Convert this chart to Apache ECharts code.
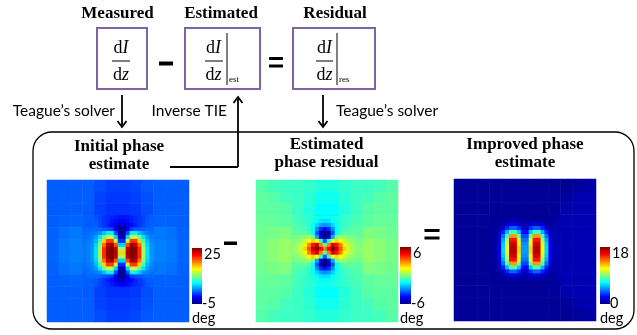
<!DOCTYPE html>
<html>
<head>
<meta charset="utf-8">
<script src="https://cdn.jsdelivr.net/npm/echarts@6/dist/echarts.min.js"></script>
<style>
  html, body { margin: 0; padding: 0; background: #fff; }
  #chart { width: 637px; height: 335px; }
</style>
</head>
<body>
<div id="chart"></div>
<script>
// phase maps (deg): a coarse 12x12 grid over the whole frame,
// plus a fine 18x18 grid over the central 6x6 coarse cells
const initialCoarse = [
  [1.5, 1.5, 1.5, 1.5, 1.0, 0.6, 0.6, 0.8, 1.3, 1.5, 1.5, 1.5],
  [1.5, 1.5, 1.5, 1.5, 0.7, 0.4, 0.4, 0.6, 1.1, 1.5, 1.5, 1.5],
  [1.5, 1.5, 1.5, 1.4, 0.6, 0.2, 0.2, 0.4, 1.0, 1.5, 1.5, 1.5],
  [1.5, 1.6, 1.7, 1.5, 0.8, -0.5, -0.8, 0.2, 1.2, 1.6, 1.6, 1.5],
  [1.6, 2.1, 2.3, 2.3, 2.0, 0, -1, 1.5, 2.3, 2.3, 2.1, 1.6],
  [1.7, 2.3, 2.5, 2.8, 8, 15, 15, 8, 2.8, 2.5, 2.3, 1.7],
  [1.7, 2.3, 2.5, 2.8, 8, 15, 15, 8, 2.8, 2.5, 2.3, 1.7],
  [1.6, 2.1, 2.3, 2.3, 2.0, 0, -1, 1.5, 2.3, 2.3, 2.1, 1.6],
  [1.5, 1.6, 1.7, 1.5, 0.8, -0.5, -0.8, 0.2, 1.2, 1.6, 1.6, 1.5],
  [1.5, 1.5, 1.5, 1.4, 0.6, 0.2, 0.2, 0.4, 1.0, 1.5, 1.5, 1.5],
  [1.5, 1.5, 1.5, 1.5, 0.7, 0.4, 0.4, 0.6, 1.1, 1.5, 1.5, 1.5],
  [1.5, 1.5, 1.5, 1.5, 1.0, 0.6, 0.6, 0.8, 1.3, 1.5, 1.5, 1.5]
];
const initialFine = [
  [1.5, 1.5, 1.5, 1.2, 0.7, 0.3, 0.1, -0.3, -0.6, -0.8, -0.8, -0.6, -0.3, 0.1, 0.3, 0.7, 1.2, 1.5],
  [1.5, 1.5, 1.5, 1.3, 0.7, 0.3, 0, -0.5, -1, -1.5, -1.5, -1, -0.5, 0, 0.3, 0.7, 1.3, 1.5],
  [1.5, 1.5, 1.5, 1.4, 0.8, 0.3, -0.3, -1, -2, -3, -3, -2, -1, -0.3, 0.3, 0.8, 1.4, 1.5],
  [1.6, 1.7, 1.8, 1.8, 1.6, 1.2, 1, 0.5, -2, -4, -4, -2, 0.5, 1, 1.2, 1.6, 1.8, 1.8],
  [1.8, 2, 2.1, 2.4, 3, 4.5, 6, 6, 1, -4.5, -4.5, 1, 6, 6, 4.5, 3, 2.4, 2.1],
  [2, 2.2, 2.5, 3.4, 5.5, 9, 12, 12, 5, -3, -3, 5, 12, 12, 9, 5.5, 3.4, 2.5],
  [2.1, 2.3, 2.8, 4.2, 8, 15, 19.5, 19.5, 12, 0, 0, 12, 19.5, 19.5, 15, 8, 4.2, 2.8],
  [2.2, 2.4, 3, 5, 10, 18, 23, 24, 19, 5, 5, 19, 24, 23, 18, 10, 5, 3],
  [2.3, 2.5, 3.2, 5.5, 11, 20, 24.5, 25, 23, 11, 11, 23, 25, 24.5, 20, 11, 5.5, 3.2],
  [2.3, 2.5, 3.2, 5.5, 11, 20, 24.5, 25, 23.5, 15, 15, 23.5, 25, 24.5, 20, 11, 5.5, 3.2],
  [2.3, 2.5, 3.2, 5.5, 11, 20, 24.5, 25, 23, 11, 11, 23, 25, 24.5, 20, 11, 5.5, 3.2],
  [2.2, 2.4, 3, 5, 10, 18, 23, 24, 19, 5, 5, 19, 24, 23, 18, 10, 5, 3],
  [2.1, 2.3, 2.8, 4.2, 8, 15, 19.5, 19.5, 12, 0, 0, 12, 19.5, 19.5, 15, 8, 4.2, 2.8],
  [2, 2.2, 2.5, 3.4, 5.5, 9, 12, 12, 5, -3, -3, 5, 12, 12, 9, 5.5, 3.4, 2.5],
  [1.8, 2, 2.1, 2.4, 3, 4.5, 6, 6, 1, -4.5, -4.5, 1, 6, 6, 4.5, 3, 2.4, 2.1],
  [1.6, 1.7, 1.8, 1.8, 1.6, 1.2, 1, 0.5, -2, -4, -4, -2, 0.5, 1, 1.2, 1.6, 1.8, 1.8],
  [1.5, 1.5, 1.5, 1.4, 0.8, 0.3, -0.3, -1, -2, -3, -3, -2, -1, -0.3, 0.3, 0.8, 1.4, 1.5],
  [1.5, 1.5, 1.5, 1.3, 0.7, 0.3, 0, -0.5, -1, -1.5, -1.5, -1, -0.5, 0, 0.3, 0.7, 1.3, 1.5]
];

const residualCoarse = [
  [-0.5, -0.7, -0.8, -0.8, -0.9, -1.1, -1.1, -0.9, -0.8, -0.8, -0.7, -0.5],
  [-0.4, -0.5, -0.7, -0.8, -1.0, -1.3, -1.3, -1.0, -0.8, -0.7, -0.5, -0.4],
  [-0.4, -0.4, -0.5, -0.8, -1.1, -1.5, -1.5, -1.1, -0.8, -0.5, -0.4, -0.4],
  [-0.3, -0.3, -0.4, -0.6, -1.2, -2.5, -2.5, -1.2, -0.6, -0.4, -0.3, -0.3],
  [-0.2, -0.1, 0, 0.1, -0.5, -4, -4, -0.5, 0.1, 0, -0.1, -0.2],
  [-0.1, 0.1, 0.3, 0.6, 2.5, 3, 3, 2.5, 0.6, 0.3, 0.1, -0.1],
  [-0.1, 0.1, 0.3, 0.6, 2.5, 3, 3, 2.5, 0.6, 0.3, 0.1, -0.1],
  [-0.2, -0.1, 0, 0.1, -0.5, -4, -4, -0.5, 0.1, 0, -0.1, -0.2],
  [-0.3, -0.3, -0.4, -0.6, -1.2, -2.5, -2.5, -1.2, -0.6, -0.4, -0.3, -0.3],
  [-0.4, -0.4, -0.5, -0.8, -1.1, -1.5, -1.5, -1.1, -0.8, -0.5, -0.4, -0.4],
  [-0.4, -0.5, -0.7, -0.8, -1.0, -1.3, -1.3, -1.0, -0.8, -0.7, -0.5, -0.4],
  [-0.5, -0.7, -0.8, -0.8, -0.9, -1.1, -1.1, -0.9, -0.8, -0.8, -0.7, -0.5]
];
const residualFine = [
  [-0.6, -0.7, -0.8, -0.9, -1, -1.1, -1.3, -1.4, -1.5, -1.4, -1.3, -1.1, -1, -0.9, -0.8, -0.7, -0.6, -0.6],
  [-0.6, -0.7, -0.8, -0.9, -1, -1.2, -1.5, -1.8, -1.9, -1.8, -1.5, -1.2, -1, -0.9, -0.8, -0.7, -0.6, -0.6],
  [-0.5, -0.6, -0.7, -0.8, -1, -1.4, -2, -2.6, -2.8, -2.6, -2, -1.4, -1, -0.8, -0.7, -0.6, -0.5, -0.5],
  [-0.5, -0.5, -0.6, -0.7, -0.9, -1.5, -2.8, -4, -4.5, -4, -2.8, -1.5, -0.9, -0.7, -0.6, -0.5, -0.5, -0.5],
  [-0.4, -0.4, -0.4, -0.4, -0.6, -1.5, -3.5, -5.5, -6, -5.5, -3.5, -1.5, -0.6, -0.4, -0.4, -0.4, -0.4, -0.4],
  [-0.2, -0.1, 0, 0.2, 0.3, -0.2, -2.5, -5, -6, -5, -2.5, -0.2, 0.3, 0.2, 0, -0.1, -0.2, -0.3],
  [0, 0.2, 0.4, 0.8, 1.5, 2, 1.5, -1, -3.5, -1, 1.5, 2, 1.5, 0.8, 0.4, 0.2, 0, -0.1],
  [0.1, 0.4, 0.8, 1.6, 3, 4.3, 5, 3, -0.5, 3, 5, 4.3, 3, 1.6, 0.8, 0.4, 0.1, 0],
  [0.2, 0.5, 1, 2, 3.5, 5, 6, 4.5, 3, 4.5, 6, 5, 3.5, 2, 1, 0.5, 0.2, 0.1],
  [0.1, 0.4, 0.8, 1.6, 3, 4.3, 5, 3, -0.5, 3, 5, 4.3, 3, 1.6, 0.8, 0.4, 0.1, 0],
  [0, 0.2, 0.4, 0.8, 1.5, 2, 1.5, -1, -3.5, -1, 1.5, 2, 1.5, 0.8, 0.4, 0.2, 0, -0.1],
  [-0.2, -0.1, 0, 0.2, 0.3, -0.2, -2.5, -5, -6, -5, -2.5, -0.2, 0.3, 0.2, 0, -0.1, -0.2, -0.3],
  [-0.4, -0.4, -0.4, -0.4, -0.6, -1.5, -3.5, -5.5, -6, -5.5, -3.5, -1.5, -0.6, -0.4, -0.4, -0.4, -0.4, -0.4],
  [-0.5, -0.5, -0.6, -0.7, -0.9, -1.5, -2.8, -4, -4.5, -4, -2.8, -1.5, -0.9, -0.7, -0.6, -0.5, -0.5, -0.5],
  [-0.5, -0.6, -0.7, -0.8, -1, -1.4, -2, -2.6, -2.8, -2.6, -2, -1.4, -1, -0.8, -0.7, -0.6, -0.5, -0.5],
  [-0.6, -0.7, -0.8, -0.9, -1, -1.2, -1.5, -1.8, -1.9, -1.8, -1.5, -1.2, -1, -0.9, -0.8, -0.7, -0.6, -0.6],
  [-0.6, -0.7, -0.8, -0.9, -1, -1.1, -1.3, -1.4, -1.5, -1.4, -1.3, -1.1, -1, -0.9, -0.8, -0.7, -0.6, -0.6],
  [-0.6, -0.7, -0.8, -0.9, -1, -1.1, -1.2, -1.3, -1.3, -1.3, -1.2, -1.1, -1, -0.9, -0.8, -0.7, -0.6, -0.6]
];

const improvedCoarse = [
  [0.4, 0.4, 0.4, 0.4, 0.4, 0.4, 0.4, 0.4, 0.4, 0.4, 0.5, 0.7],
  [0.4, 0.4, 0.4, 0.4, 0.4, 0.4, 0.4, 0.4, 0.4, 0.5, 0.8, 0.9],
  [0.4, 0.4, 0.4, 0.4, 0.4, 0.4, 0.4, 0.4, 0.5, 0.8, 0.9, 0.9],
  [0.4, 0.4, 0.4, 0.5, 0.6, 0.8, 0.8, 0.6, 0.7, 0.9, 0.9, 0.9],
  [0.4, 0.4, 0.4, 0.6, 3, 6, 6, 3, 0.9, 0.9, 0.9, 0.9],
  [0.4, 0.4, 0.4, 0.8, 8, 12, 12, 8, 0.9, 0.9, 0.9, 0.9],
  [0.4, 0.4, 0.4, 0.8, 8, 12, 12, 8, 0.9, 0.9, 0.9, 0.9],
  [0.4, 0.4, 0.4, 0.6, 3, 6, 6, 3, 0.9, 0.9, 0.9, 0.9],
  [0.4, 0.4, 0.4, 0.5, 0.6, 0.8, 0.8, 0.6, 0.7, 0.9, 0.9, 0.9],
  [0.4, 0.4, 0.4, 0.4, 0.4, 0.4, 0.4, 0.4, 0.5, 0.8, 0.9, 0.9],
  [0.4, 0.4, 0.4, 0.4, 0.4, 0.4, 0.4, 0.4, 0.4, 0.5, 0.8, 0.9],
  [0.4, 0.4, 0.4, 0.4, 0.4, 0.4, 0.4, 0.4, 0.4, 0.4, 0.5, 0.7]
];
const improvedFine = [
  [0.4, 0.4, 0.4, 0.4, 0.4, 0.4, 0.4, 0.4, 0.4, 0.4, 0.4, 0.4, 0.4, 0.4, 0.4, 0.4, 0.5, 0.6],
  [0.4, 0.4, 0.5, 0.5, 0.6, 0.7, 0.7, 0.6, 0.5, 0.5, 0.6, 0.7, 0.7, 0.6, 0.5, 0.5, 0.5, 0.7],
  [0.4, 0.5, 0.5, 0.8, 1.2, 1.6, 1.6, 1.3, 0.8, 0.8, 1.3, 1.6, 1.6, 1.2, 0.8, 0.6, 0.7, 0.8],
  [0.5, 0.5, 0.7, 1.5, 2.8, 4, 4, 3, 1.3, 1.3, 3, 4, 4, 2.8, 1.5, 0.8, 0.8, 0.9],
  [0.5, 0.5, 1, 2.8, 5.5, 8, 8, 5.8, 2.4, 2.4, 5.8, 8, 8, 5.5, 2.8, 1, 0.9, 0.9],
  [0.5, 0.6, 1.4, 4.2, 8, 13, 13, 8.5, 3.5, 3.5, 8.5, 13, 13, 8, 4.2, 1.4, 0.9, 0.9],
  [0.5, 0.6, 1.7, 5.2, 9.5, 15.5, 15.5, 10.5, 4.3, 4.3, 10.5, 15.5, 15.5, 9.5, 5.2, 1.7, 0.9, 0.9],
  [0.5, 0.6, 1.9, 5.8, 10.5, 16.5, 16.5, 11.5, 4.8, 4.8, 11.5, 16.5, 16.5, 10.5, 5.8, 1.9, 0.9, 0.9],
  [0.5, 0.6, 2, 6, 11, 17, 17, 12, 5, 5, 12, 17, 17, 11, 6, 2, 0.9, 0.9],
  [0.5, 0.6, 2, 6, 11, 17, 17, 12, 5, 5, 12, 17, 17, 11, 6, 2, 0.9, 0.9],
  [0.5, 0.6, 1.9, 5.8, 10.5, 16.5, 16.5, 11.5, 4.8, 4.8, 11.5, 16.5, 16.5, 10.5, 5.8, 1.9, 0.9, 0.9],
  [0.5, 0.6, 1.7, 5.2, 9.5, 15.5, 15.5, 10.5, 4.3, 4.3, 10.5, 15.5, 15.5, 9.5, 5.2, 1.7, 0.9, 0.9],
  [0.5, 0.6, 1.4, 4.2, 8, 13, 13, 8.5, 3.5, 3.5, 8.5, 13, 13, 8, 4.2, 1.4, 0.9, 0.9],
  [0.5, 0.5, 1, 2.8, 5.5, 8, 8, 5.8, 2.4, 2.4, 5.8, 8, 8, 5.5, 2.8, 1, 0.9, 0.9],
  [0.5, 0.5, 0.7, 1.5, 2.8, 4, 4, 3, 1.3, 1.3, 3, 4, 4, 2.8, 1.5, 0.8, 0.8, 0.9],
  [0.4, 0.5, 0.5, 0.8, 1.2, 1.6, 1.6, 1.3, 0.8, 0.8, 1.3, 1.6, 1.6, 1.2, 0.8, 0.6, 0.7, 0.8],
  [0.4, 0.4, 0.5, 0.5, 0.6, 0.7, 0.7, 0.6, 0.5, 0.5, 0.6, 0.7, 0.7, 0.6, 0.5, 0.5, 0.5, 0.7],
  [0.4, 0.4, 0.4, 0.4, 0.4, 0.4, 0.4, 0.4, 0.4, 0.4, 0.4, 0.4, 0.4, 0.4, 0.4, 0.4, 0.5, 0.6]
];

// colour bar ranges and their tick labels [top, bottom]
const initialRange = [-5, 25];
const residualRange = [-6, 6];
const improvedRange = [0, 18];
const initialTicks = ["25", "-5"];
const residualTicks = ["6", "-6"];
const improvedTicks = ["18", "0"];

const SERIF = '"Liberation Serif", "Times New Roman", serif';
const SANS = 'Lato, "Open Sans", sans-serif';
const JET = ["#00007f", "#0000ff", "#007fff", "#00ffff", "#7fff7f", "#ffff00", "#ff7f00", "#ff0000", "#7f0000"];
const PURPLE = "#8064a2";

const panels = [
  { coarse: initialCoarse, fine: initialFine, range: initialRange, ticks: initialTicks, left: 47, top: 180, bar: [192, 248, 10, 56] },
  { coarse: residualCoarse, fine: residualFine, range: residualRange, ticks: residualTicks, left: 256, top: 180, bar: [400, 247, 11, 57] },
  { coarse: improvedCoarse, fine: improvedFine, range: improvedRange, ticks: improvedTicks, left: 454, top: 179, bar: [600, 247, 10, 57] },
];

const toCells = rows => {
  const out = [];
  rows.forEach((row, y) => row.forEach((v, x) => out.push([x, y, v])));
  return out;
};

const grids = [], xAxes = [], yAxes = [], series = [], visualMaps = [], graphics = [];

panels.forEach((p, i) => {
  [[p.coarse, 0, 142], [p.fine, 35.5, 71]].forEach(([rows, off, size]) => {
    const k = grids.length;
    grids.push({ left: p.left + off, top: p.top + off, width: size, height: size });
    xAxes.push({ type: "category", gridIndex: k, data: rows[0].map((_, j) => j), show: false });
    yAxes.push({ type: "category", gridIndex: k, data: rows.map((_, j) => j), inverse: true, show: false });
    series.push({
      type: "heatmap",
      xAxisIndex: k,
      yAxisIndex: k,
      data: toCells(rows),
      progressive: 0,
      silent: true,
      itemStyle: { borderWidth: 0 },
    });
  });
  visualMaps.push({
    type: "continuous",
    min: p.range[0],
    max: p.range[1],
    seriesIndex: [2 * i, 2 * i + 1],
    show: false,
    inRange: { color: JET },
  });

  // colour bar drawn by hand so the labels sit to its right
  const [bx, by, bw, bh] = p.bar;
  graphics.push({
    type: "rect",
    shape: { x: bx, y: by, width: bw, height: bh },
    style: {
      fill: {
        type: "linear", x: 0, y: 1, x2: 0, y2: 0,
        colorStops: JET.map((c, j) => ({ offset: j / (JET.length - 1), color: c })),
      },
    },
  });
  graphics.push(txt(p.ticks[0], bx + bw + 2, by + 6, { font: SANS, size: 14.5 }));
  graphics.push(txt(p.ticks[1], bx + bw, by + bh - 1, { font: SANS, size: 14.5 }));
  graphics.push(txt("deg", bx, 318, { font: SANS, size: 14.5 }));
});

function txt(text, x, y, o) {
  const align = o.align || "left";
  return {
    type: "text",
    x, y,
    style: {
      text,
      fontFamily: o.font,
      fontSize: o.size,
      fontWeight: o.weight || "normal",
      fill: "#000",
      align, verticalAlign: "middle",
      textAlign: align, textVerticalAlign: "middle",
      lineHeight: o.lineHeight,
      rich: o.rich,
    },
  };
}

const line = (x1, y1, x2, y2, w) => ({
  type: "line",
  shape: { x1, y1, x2, y2 },
  style: { stroke: "#000", lineWidth: w || 1.6 },
});

const bar = (x, y, w, h) => ({ type: "rect", shape: { x, y, width: w, height: h }, style: { fill: "#000" } });

// shaft from y1 to the tip at y2
const arrow = (x, y1, y2) => {
  const d = y2 > y1 ? -1 : 1;
  return [
    line(x, y1, x, y2, 1.8),
    { type: "polyline", shape: { points: [[x - 4.5, y2 + d * 6], [x, y2], [x + 4.5, y2 + d * 6]] }, style: { stroke: "#000", lineWidth: 1.8, fill: null } },
  ];
};

const fracRich = {
  n: { fontFamily: SERIF, fontSize: 18, fill: "#000" },
  i: { fontFamily: SERIF, fontSize: 18, fontStyle: "italic", fill: "#000" },
};

const fraction = (cx, x1, x2) => [
  txt("{n|d}{i|I}", cx, 48, { font: SERIF, size: 18, align: "center", rich: fracRich }),
  line(x1, 61, x2, 61, 1),
  txt("{n|d}{i|z}", cx, 75, { font: SERIF, size: 18, align: "center", rich: fracRich }),
];

const box = (x, w) => ({
  type: "rect",
  shape: { x, y: 28, width: w, height: 61 },
  style: { fill: null, stroke: PURPLE, lineWidth: 2 },
});

graphics.push(
  // top row: dI/dz boxes
  txt("Measured", 117.5, 14, { font: SERIF, size: 17, weight: "bold", align: "center" }),
  txt("Estimated", 221, 14, { font: SERIF, size: 17, weight: "bold", align: "center" }),
  txt("Residual", 335, 14, { font: SERIF, size: 17, weight: "bold", align: "center" }),
  box(97, 50), box(185, 75), box(293, 82),
  ...fraction(121, 112, 130),
  ...fraction(213.5, 205, 223),
  line(227, 33, 227, 85, 1),
  txt("est", 229, 80, { font: SERIF, size: 9 }),
  ...fraction(324.5, 316, 333),
  line(337, 33, 337, 85, 1),
  txt("res", 339, 80, { font: SERIF, size: 9 }),
  bar(159, 61.5, 14, 4),
  bar(269, 57, 14, 3), bar(269, 64.5, 14, 3),

  // solver arrows
  txt("Teague\u2019s solver", 115, 111, { font: SANS, size: 15.5, align: "right" }),
  ...arrow(122, 95, 127),
  txt("Inverse TIE", 227, 111, { font: SANS, size: 15.5, align: "right" }),
  line(170, 167, 238, 167, 1.8),
  ...arrow(238, 167, 97),
  ...arrow(323, 95, 127),
  txt("Teague\u2019s solver", 336, 111, { font: SANS, size: 15.5 }),

  // lower frame
  {
    type: "rect",
    shape: { x: 33, y: 132, width: 601, height: 197, r: 19 },
    style: { fill: null, stroke: "#000", lineWidth: 1.3 },
  },
  txt("Initial phase\nestimate", 119, 156, { font: SERIF, size: 17, weight: "bold", align: "center", lineHeight: 18 }),
  txt("Estimated\nphase residual", 326.5, 154, { font: SERIF, size: 17, weight: "bold", align: "center", lineHeight: 18 }),
  txt("Improved phase\nestimate", 525, 154, { font: SERIF, size: 17, weight: "bold", align: "center", lineHeight: 18 }),
  bar(224, 241.5, 13, 3.5),
  bar(424.5, 229, 15, 3), bar(424.5, 236.5, 15, 3),
);

const chart = echarts.init(document.getElementById("chart"), null, { renderer: "canvas" });
chart.setOption({
  animation: false,
  grid: grids,
  xAxis: xAxes,
  yAxis: yAxes,
  visualMap: visualMaps,
  series,
  graphic: { elements: graphics },
});
</script>
</body>
</html>
